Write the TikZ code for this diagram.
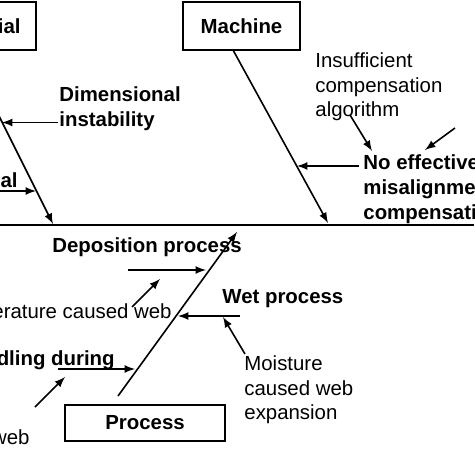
\documentclass[tikz,border=0pt]{standalone}
\usepackage{fontspec}
\setmainfont{Liberation Sans}
\usetikzlibrary{arrows,positioning}
\tikzset{%
    category/.style={%
        rectangle, draw=black, line width=0.8pt, minimum height=24pt, font=\bfseries\fontsize{10.2}{12.5}\selectfont
    },
    cause/.style={%
        inner sep=0pt, align=left, font=\bfseries\fontsize{10.2}{12.6}\selectfont
    },
    subcause/.style={%
        inner sep=0pt, align=left, font=\fontsize{10.2}{12.2}\selectfont
    },
    bone/.style={%
        -latex, line width=0.8pt
    },
    spine/.style={%
        line width=1pt
    },
}
\begin{document}
\begin{tikzpicture}[x=0.5pt,y=-0.5pt]

    \useasboundingbox (0,0) rectangle (474,474);
    \clip (0,0) rectangle (474,474);

    % main spine
    \coordinate (spineL) at (0,225);
    \coordinate (spineR) at (474,225);
    \draw[spine] (spineL) -- (spineR);

    \begin{scope}
      \node[category, minimum width=54pt] (matbox) at (-18,26) {Material};
      \coordinate (matTop) at (-34,50);
      \coordinate (matFoot) at (53,224);
      \draw[bone] (matTop) -- (matFoot);
      \node[cause, anchor=west] (dimtxt) at (59,109) {Dimensional\\instability};
      \node[cause, anchor=east] (thermtxt) at (18,180) {Thermal};
      \coordinate (dimStart) at (58,122.5);
      \coordinate (dimTip) at (2,122.5);
      \draw[bone] (dimStart) -- (dimTip);
      \coordinate (thermStart) at (-20,191);
      \coordinate (thermTip) at (36,191);
      \draw[bone] (thermStart) -- (thermTip);
    \end{scope}

    \begin{scope}
      \node[category, minimum width=58.5pt] (machbox) at (241.5,26) {Machine};
      \coordinate (machTop) at (233,50);
      \coordinate (machFoot) at (328,223);
      \draw[bone] (machTop) -- (machFoot);
      \node[subcause, anchor=west] (insufftxt) at (315,87) {Insufficient\\compensation\\algorithm};
      \node[cause, anchor=west] (noefftxt) at (363,189) {No effective\\misalignment\\compensation};
      \coordinate (insuffStart) at (350,115);
      \coordinate (insuffTip) at (372,151);
      \draw[bone] (insuffStart) -- (insuffTip);
      \coordinate (rightStart) at (455,128);
      \coordinate (rightTip) at (425,150);
      \draw[bone] (rightStart) -- (rightTip);
      \coordinate (noeffStart) at (359,166);
      \coordinate (noeffTip) at (297,166);
      \draw[bone] (noeffStart) -- (noeffTip);
    \end{scope}

    \begin{scope}
      \node[category, minimum width=80pt, minimum height=18pt] (procbox) at (145,423) {Process};
      \coordinate (procFoot) at (118,396);
      \coordinate (procTop) at (237,232);
      \draw[bone] (procFoot) -- (procTop);
      \node[cause, anchor=west] (deptxt) at (52,247) {Deposition process};
      \node[subcause, anchor=east] (temptxt) at (172,313) {Temperature caused web};
      \node[cause, anchor=west] (wettxt) at (222,299) {Wet process};
      \node[subcause, anchor=west] (moisttxt) at (244,390) {Moisture\\caused web\\expansion};
      \node[cause, anchor=east] (handltxt) at (115,360) {Handling during};
      \node[subcause, anchor=east] (webtxt) at (30,437) {web};
      \coordinate (depStart) at (128,270);
      \coordinate (depTip) at (206,270);
      \draw[bone] (depStart) -- (depTip);
      \coordinate (tempStart) at (132,307);
      \coordinate (tempTip) at (160,279);
      \draw[bone] (tempStart) -- (tempTip);
      \coordinate (wetStart) at (240,316);
      \coordinate (wetTip) at (178,316);
      \draw[bone] (wetStart) -- (wetTip);
      \coordinate (moistStart) at (245,354);
      \coordinate (moistTip) at (223,317);
      \draw[bone] (moistStart) -- (moistTip);
      \coordinate (handlStart) at (58,369);
      \coordinate (handlTip) at (135,369);
      \draw[bone] (handlStart) -- (handlTip);
      \coordinate (webStart) at (35,407);
      \coordinate (webTip) at (65,377);
      \draw[bone] (webStart) -- (webTip);
    \end{scope}

  \end{tikzpicture}
\end{document}
